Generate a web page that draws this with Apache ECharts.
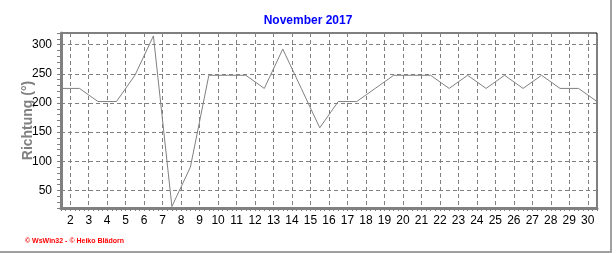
<!DOCTYPE html>
<html>
<head>
<meta charset="utf-8">
<script src="https://cdn.jsdelivr.net/npm/echarts@6/dist/echarts.min.js"></script>
<style>html,body{margin:0;padding:0;background:#fff;}#c{width:616px;height:253px;}</style>
</head>
<body>
<div id="c"></div>
<script>
// Days of November 2017 (daily readings plotted at midday)
const DAYS = [1,2,3,4,5,6,7,8,9,10,11,12,13,14,15,16,17,18,19,20,21,22,23,24,25,26,27,28,29,30];
// Wind direction (degrees)
const DIRECTION = [225,225,202.5,202.5,247.5,315,22.5,90,247.5,247.5,247.5,225,292.5,225,157.5,202.5,202.5,225,247.5,247.5,247.5,225,247.5,225,247.5,225,247.5,225,225,202.5];
// Axis tick labels
const X_TICKS = [2,3,4,5,6,7,8,9,10,11,12,13,14,15,16,17,18,19,20,21,22,23,24,25,26,27,28,29,30];
const Y_TICKS = [50,100,150,200,250,300];
const TITLE = 'November 2017';
const Y_NAME = 'Richtung (°)';
const FOOTER = '© WsWin32 - © Heiko Blädorn';

const X_MIN = 1.5, X_MAX = 30.5, Y_MIN = 20, Y_MAX = 320;
// decorative category axes: quarter-day steps on x, 10° steps on y
const xCats = [];
for (let q = X_MIN * 4; q <= X_MAX * 4; q++) xCats.push(String(q / 4));
const yCats = [];
for (let v = Y_MIN; v <= Y_MAX; v += 10) yCats.push(String(v));

const isXTick = (i, v) => X_TICKS.includes(Number(v));
const isYTick = (i, v) => Y_TICKS.includes(Number(v));

const GREY = '#808080';
const font = 'Arial, "Liberation Sans", sans-serif';

const chart = echarts.init(document.getElementById('c'), null, {renderer: 'canvas'});
chart.setOption({
  animation: false,
  backgroundColor: '#fff',
  title: [{
    text: TITLE, left: 'center', top: 10,
    textStyle: {color: '#0000ff', fontSize: 12, fontWeight: 'bold', fontFamily: font}
  }, {
    text: FOOTER, left: 20, top: 233,
    textStyle: {color: '#ff0000', fontSize: 7, fontWeight: 'bold', fontFamily: font}
  }],
  grid: {left: 61, right: 19, top: 33, bottom: 45, show: true, borderColor: '#000', borderWidth: 1, backgroundColor: 'transparent'},
  xAxis: [{
    type: 'category', data: xCats, boundaryGap: false, position: 'bottom',
    axisLine: {show: true, lineStyle: {color: GREY, width: 3}},
    axisTick: {show: true, interval: 0, length: 3, lineStyle: {color: GREY}},
    axisLabel: {interval: isXTick, color: '#000', fontSize: 12, fontFamily: font, margin: 7},
    splitLine: {show: true, interval: isXTick, lineStyle: {color: GREY, type: [4, 3], width: 1}}
  }, {
    type: 'value', min: X_MIN, max: X_MAX, show: false
  }],
  yAxis: [{
    type: 'category', data: yCats, boundaryGap: false, position: 'left',
    name: Y_NAME, nameLocation: 'middle', nameGap: 26, nameRotate: 90, nameMoveOverlap: false,
    nameTextStyle: {color: GREY, fontSize: 14, fontWeight: 'bold', fontFamily: font},
    axisLine: {show: true, lineStyle: {color: GREY, width: 3}},
    axisTick: {show: true, interval: 0, length: 4, lineStyle: {color: GREY}},
    axisLabel: {interval: isYTick, color: '#000', fontSize: 12, fontFamily: font, margin: 9},
    splitLine: {show: true, interval: isYTick, lineStyle: {color: GREY, type: [4, 3], width: 1}}
  }, {
    type: 'value', min: Y_MIN, max: Y_MAX, show: false
  }],
  series: [{
    type: 'line', xAxisIndex: 1, yAxisIndex: 1,
    data: DAYS.map((d, i) => [d + 0.5, DIRECTION[i]]),
    showSymbol: false, symbol: 'none',
    lineStyle: {color: GREY, width: 1}
  }],
  graphic: [
    {type: 'line', shape: {x1: 611, y1: 0, x2: 611, y2: 253}, style: {stroke: '#a0a0a0', lineWidth: 2}},
    {type: 'line', shape: {x1: 0, y1: 252, x2: 612, y2: 252}, style: {stroke: '#a0a0a0', lineWidth: 2}}
  ]
});
</script>
</body>
</html>
